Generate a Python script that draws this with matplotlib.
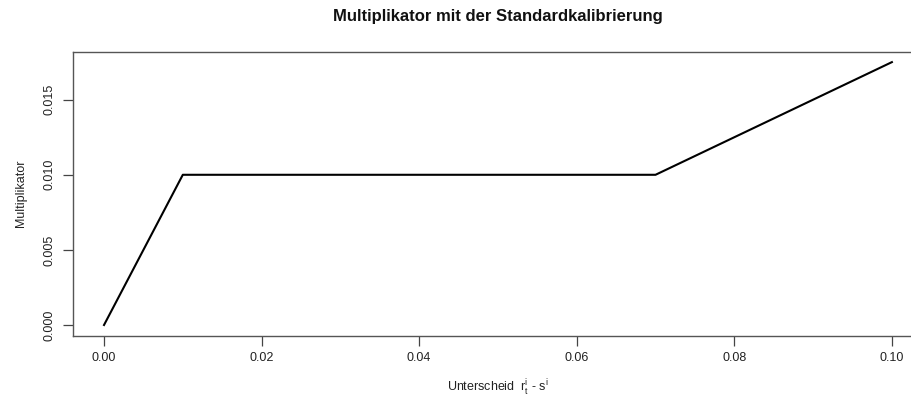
import matplotlib
matplotlib.use("Agg")
import matplotlib.pyplot as plt

# Knickpunkte der Multiplikatorfunktion
unterschied = [0.00, 0.01, 0.07, 0.10]
multiplikator = [0.000, 0.010, 0.010, 0.0175]

x_ticks = [0.00, 0.02, 0.04, 0.06, 0.08, 0.10]
y_ticks = [0.000, 0.005, 0.010, 0.015]

plt.rcParams['font.family'] = ['Liberation Sans', 'DejaVu Sans']
plt.rcParams['mathtext.fontset'] = 'custom'
plt.rcParams['mathtext.rm'] = 'Liberation Sans'
plt.rcParams['mathtext.it'] = 'Liberation Sans'
plt.rcParams['mathtext.default'] = 'regular'

fig = plt.figure(figsize=(9.12, 4.01), dpi=100)
ax = fig.add_axes([0.0795, 0.1633, 0.933, 0.708])
ax.patch.set_visible(False)

ax.plot(unterschied, multiplikator, color='black', linewidth=1.5)

# Achsenbereich wie in R (4 % Rand)
xr = max(unterschied) - min(unterschied)
yr = max(multiplikator) - min(multiplikator)
ax.set_xlim(min(unterschied) - 0.04 * xr, max(unterschied) + 0.04 * xr)
ax.set_ylim(min(multiplikator) - 0.04 * yr, max(multiplikator) + 0.04 * yr)

ax.set_xticks(x_ticks)
ax.set_xticklabels([f"{v:.2f}" for v in x_ticks])
ax.set_yticks(y_ticks)
ax.set_yticklabels([f"{v:.3f}" for v in y_ticks], rotation=90, va='center')

for s in ax.spines.values():
    s.set_color('#555555')
    s.set_linewidth(1.0)
ax.spines['right'].set_visible(False)
ax.tick_params(direction='out', length=7, width=0.9, color='#444444',
               labelsize=9, labelcolor='#222222', pad=5)
ax.tick_params(right=False, top=False)

ax.set_xlabel(r"Unterscheid  $r_t^i$ - $s^i$", fontsize=9, color='#222222', labelpad=10)
ax.set_ylabel("Multiplikator", fontsize=9, color='#222222', labelpad=12)
fig.text(0.546, 0.96, "Multiplikator mit der Standardkalibrierung",
         ha='center', va='center', fontsize=12, fontweight='bold', color='#111111')

fig.savefig("out.png", dpi=100, facecolor='white')
